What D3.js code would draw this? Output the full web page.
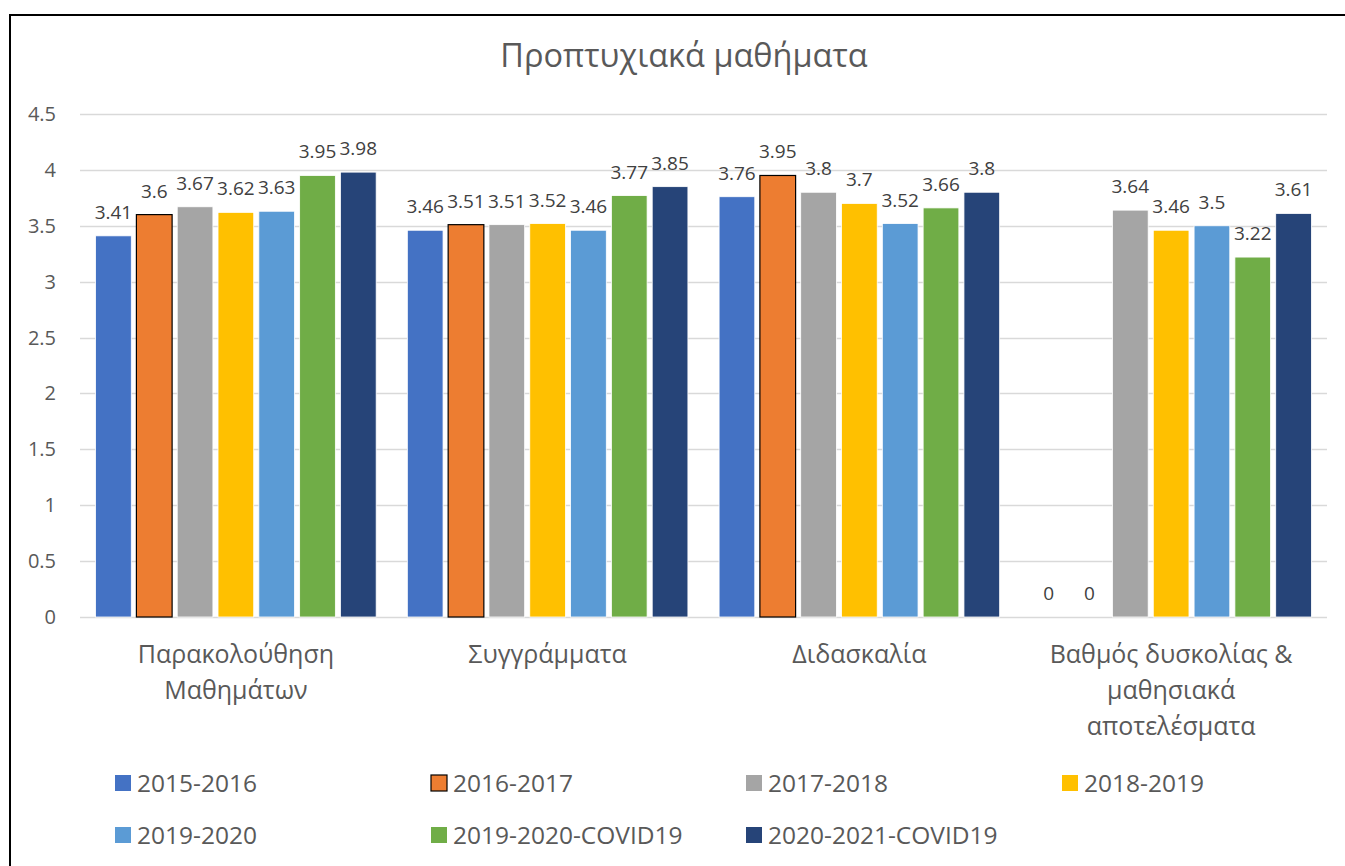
<!DOCTYPE html>
<html>
<head>
<meta charset="utf-8">
<script src="https://cdn.jsdelivr.net/npm/d3@7"></script>
<style>
  body { margin: 0; background: #fff; }
  text { font-family: "Open Sans", sans-serif; }
</style>
</head>
<body>
<svg id="chart" width="1345" height="866"></svg>
<script>
// chart data
const categories = [
  ["Παρακολούθηση", "Μαθημάτων"],
  ["Συγγράμματα"],
  ["Διδασκαλία"],
  ["Βαθμός δυσκολίας &", "μαθησιακά", "αποτελέσματα"]
];
const seriesNames = ["2015-2016", "2016-2017", "2017-2018", "2018-2019", "2019-2020", "2019-2020-COVID19", "2020-2021-COVID19"];
const seriesColors = ["#4472C4", "#ED7D31", "#A5A5A5", "#FFC000", "#5B9BD5", "#70AD47", "#264478"];
// one array per category, one value per series
const values = [
  [3.41, 3.6, 3.67, 3.62, 3.63, 3.95, 3.98],
  [3.46, 3.51, 3.51, 3.52, 3.46, 3.77, 3.85],
  [3.76, 3.95, 3.8, 3.7, 3.52, 3.66, 3.8],
  [0, 0, 3.64, 3.46, 3.5, 3.22, 3.61]
];
const yTicks = [0, 0.5, 1, 1.5, 2, 2.5, 3, 3.5, 4, 4.5];
const title = "Προπτυχιακά μαθήματα";

const svg = d3.select("#chart");
const plot = { left: 80, right: 1327, top: 114, bottom: 617 };

// outer frame
svg.append("rect")
  .attr("x", 10).attr("y", 15)
  .attr("width", 1345).attr("height", 900)
  .attr("fill", "none").attr("stroke", "#000").attr("stroke-width", 2);

svg.append("text")
  .attr("x", 684).attr("y", 67)
  .attr("text-anchor", "middle")
  .attr("font-size", 32.5)
  .attr("fill", "#595959")
  .text(title);

const y = d3.scaleLinear().domain([0, 4.5]).range([plot.bottom, plot.top]);
const x0 = d3.scaleBand()
  .domain(d3.range(categories.length))
  .range([plot.left, plot.right])
  .paddingInner(0.1).paddingOuter(0.05);
const x1 = d3.scaleBand()
  .domain(d3.range(seriesNames.length))
  .range([0, x0.bandwidth()])
  .paddingInner(0.125);

// gridlines
svg.append("g").selectAll("line")
  .data(yTicks)
  .join("line")
  .attr("x1", plot.left).attr("x2", plot.right)
  .attr("y1", d => Math.round(y(d)) + 0.5).attr("y2", d => Math.round(y(d)) + 0.5)
  .attr("stroke", "#d9d9d9").attr("stroke-width", 1.5);

// y tick labels
svg.append("g").selectAll("text")
  .data(yTicks)
  .join("text")
  .attr("x", 56).attr("y", d => y(d))
  .attr("dy", "0.35em")
  .attr("text-anchor", "end")
  .attr("font-size", 20)
  .attr("fill", "#595959")
  .text(d => d);

// bars
const groups = svg.append("g").selectAll("g")
  .data(values)
  .join("g")
  .attr("transform", (d, i) => `translate(${x0(i)},0)`);

groups.selectAll("rect")
  .data(d => d.map((v, j) => ({ v, j })))
  .join("rect")
  .attr("x", d => x1(d.j))
  .attr("y", d => y(d.v))
  .attr("width", x1.bandwidth())
  .attr("height", d => y(0) - y(d.v))
  .attr("fill", d => seriesColors[d.j])
  .attr("stroke", d => d.j === 1 ? "#000" : "#fff")
  .attr("stroke-width", d => d.j === 1 ? 1.2 : 0.8);

groups.selectAll("text")
  .data(d => d.map((v, j) => ({ v, j })))
  .join("text")
  .attr("x", d => x1(d.j) + x1.bandwidth() / 2)
  .attr("y", d => y(d.v) - 17)
  .attr("text-anchor", "middle")
  .attr("font-size", 19)
  .attr("fill", "#404040")
  .text(d => d.v);

// category labels
svg.append("g").selectAll("text")
  .data(categories)
  .join("text")
  .attr("x", (d, i) => x0(i) + x0.bandwidth() / 2)
  .attr("y", 663)
  .attr("text-anchor", "middle")
  .attr("font-size", 25)
  .attr("fill", "#595959")
  .each(function(lines) {
    d3.select(this).selectAll("tspan")
      .data(lines)
      .join("tspan")
      .attr("x", d3.select(this).attr("x"))
      .attr("dy", (l, k) => k === 0 ? 0 : 36)
      .text(l => l);
  });

// legend
const legendCols = [115, 431, 746, 1062];
const legend = svg.append("g").selectAll("g")
  .data(seriesNames)
  .join("g")
  .attr("transform", (d, i) => `translate(${legendCols[i % 4]},${i < 4 ? 783 : 835})`);

legend.append("rect")
  .attr("x", 0).attr("y", -8)
  .attr("width", 16).attr("height", 16)
  .attr("fill", (d, i) => seriesColors[i])
  .attr("stroke", (d, i) => i === 1 ? "#000" : "none")
  .attr("stroke-width", 1.2);

legend.append("text")
  .attr("x", 22).attr("y", 0)
  .attr("dy", "0.35em")
  .attr("font-size", 24.5)
  .attr("fill", "#595959")
  .text(d => d);
</script>
</body>
</html>
